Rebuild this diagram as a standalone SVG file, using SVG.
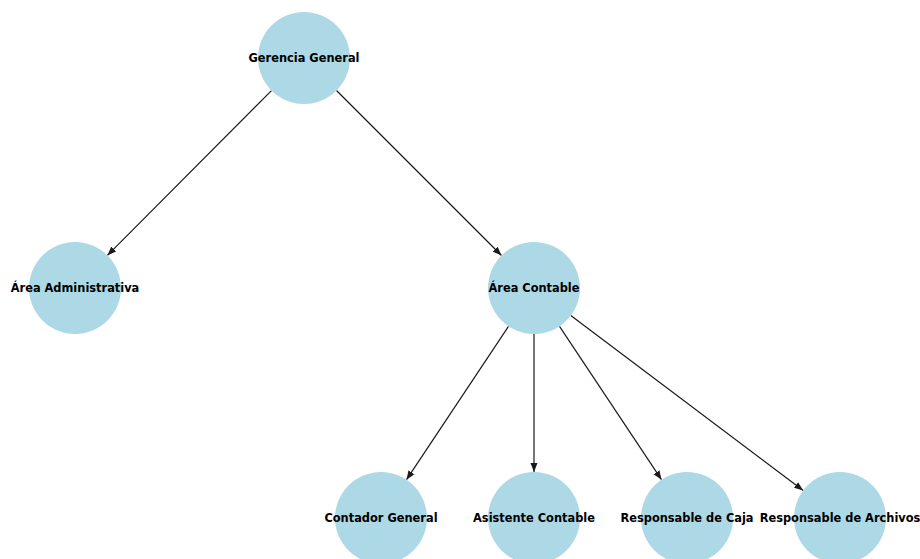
<svg xmlns="http://www.w3.org/2000/svg" width="920" height="559" viewBox="0 0 920 559">
<style>
.node circle{fill:#add8e6;stroke:none}
.node text{font-family:"DejaVu Sans",Verdana,sans-serif;font-weight:bold;font-size:11.4px;fill:#000;text-anchor:middle;dominant-baseline:central}
.edge{stroke:#1a1a1a;stroke-width:1.2;fill:none;marker-end:url(#arrow)}
</style>
<defs>
<marker id="arrow" markerUnits="userSpaceOnUse" markerWidth="10" markerHeight="8" refX="9" refY="4" orient="auto">
<path d="M0,0.5 L9,4 L0,7.5 Z" fill="#1a1a1a"/>
</marker>
</defs>
<rect width="920" height="559" fill="#fff"/>
<g id="connectors">
<line class="edge" x1="271.5" y1="90.6" x2="107.4" y2="255.4"/>
<line class="edge" x1="336.5" y1="90.5" x2="501.5" y2="255.5"/>
<line class="edge" x1="508.5" y1="326.3" x2="406.5" y2="479.7"/>
<line class="edge" x1="534" y1="334" x2="534" y2="472"/>
<line class="edge" x1="559.5" y1="326.3" x2="661.5" y2="479.7"/>
<line class="edge" x1="570.8" y1="315.6" x2="803.2" y2="490.4"/>
</g>
<g id="gerencia-general" class="node"><circle cx="304" cy="58" r="46"/><text x="304" y="58">Gerencia General</text></g>
<g id="area-administrativa" class="node"><circle cx="75" cy="288" r="46"/><text x="75" y="288">Área Administrativa</text></g>
<g id="area-contable" class="node"><circle cx="534" cy="288" r="46"/><text x="534" y="288">Área Contable</text></g>
<g id="contador-general" class="node"><circle cx="381" cy="518" r="46"/><text x="381" y="518">Contador General</text></g>
<g id="asistente-contable" class="node"><circle cx="534" cy="518" r="46"/><text x="534" y="518">Asistente Contable</text></g>
<g id="responsable-caja" class="node"><circle cx="687" cy="518" r="46"/><text x="687" y="518">Responsable de Caja</text></g>
<g id="responsable-archivos" class="node"><circle cx="840" cy="518" r="46"/><text x="840" y="518">Responsable de Archivos</text></g>
</svg>
